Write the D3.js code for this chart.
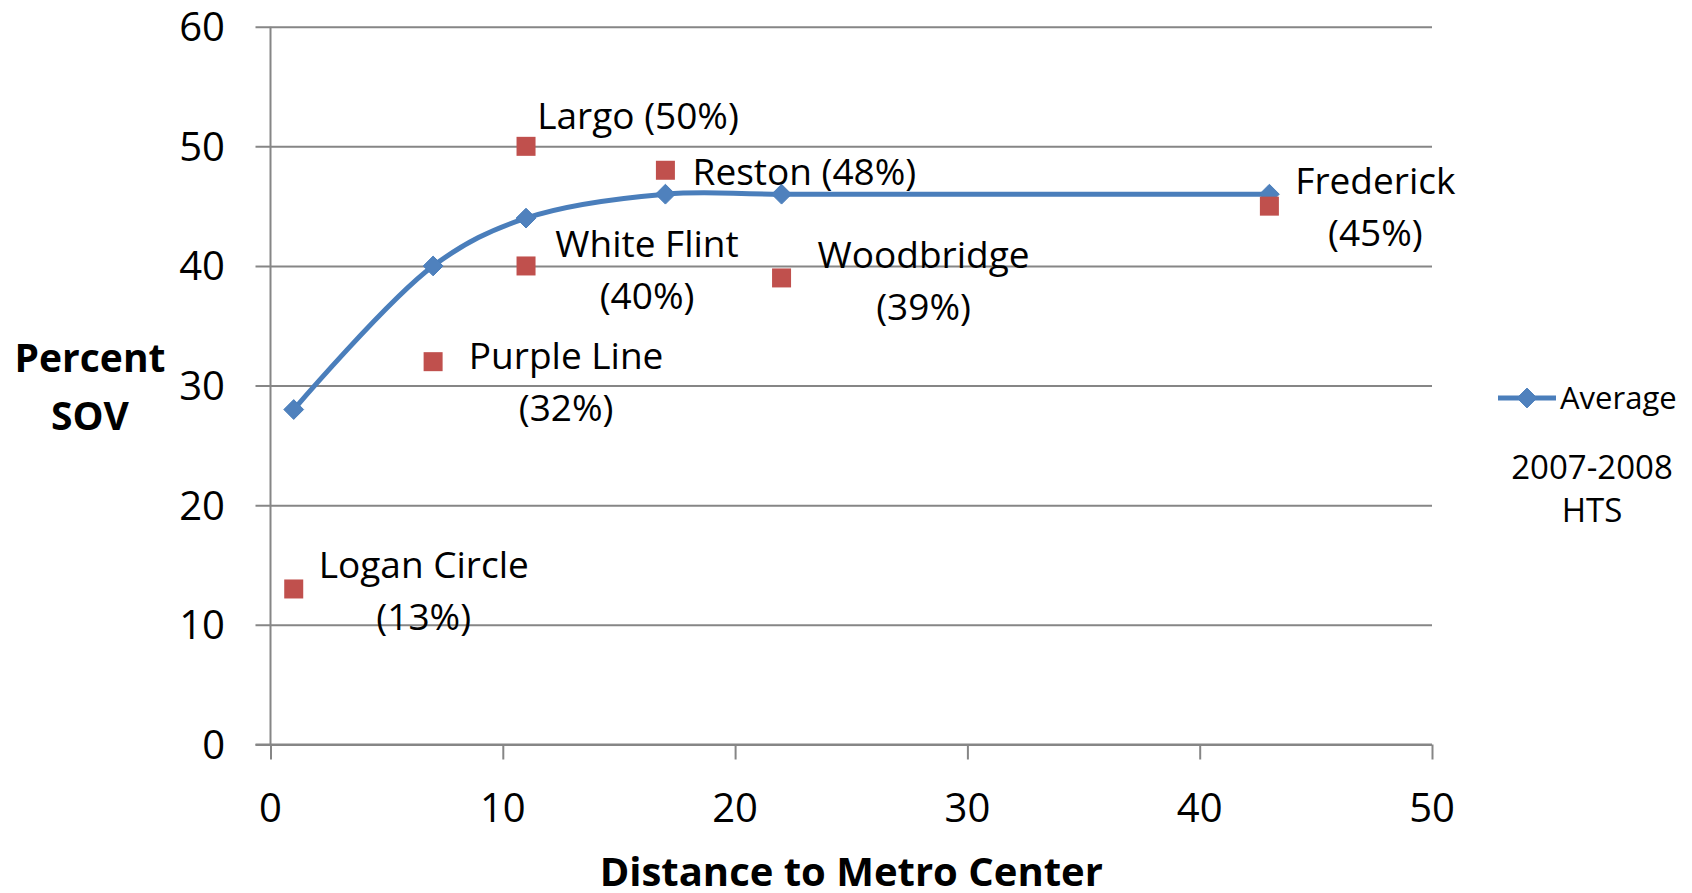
<!DOCTYPE html>
<html>
<head>
<meta charset="utf-8">
<script src="https://cdn.jsdelivr.net/npm/d3@7"></script>
<style>
  html, body { margin: 0; padding: 0; background: #fff; }
  svg { display: block; font-family: "Open Sans", sans-serif; }
</style>
</head>
<body>
<svg id="chart" width="1692" height="893"></svg>
<script>
// ---- Data ----
const avgX = [1, 7, 11, 17, 22, 43];
const avgY = [28, 40, 44, 46, 46, 46];
const avgName = "Average";

const siteNames = ["Logan Circle", "Purple Line", "White Flint", "Largo", "Reston", "Woodbridge", "Frederick"];
const siteX = [1, 7, 11, 11, 17, 22, 43];
const siteY = [13, 32, 40, 50, 48, 39, 45];

const xTicks = [0, 10, 20, 30, 40, 50];
const yTicks = [0, 10, 20, 30, 40, 50, 60];

const xTitle = "Distance to Metro Center";
const yTitleLines = ["Percent", "SOV"];
const noteLines = ["2007-2008", "HTS"];

// ---- Layout (pixels) ----
const labelDx = [130, 133, 121, 112, 139, 142, 106];
const labelDy = [-24, -6, -22, -31, 1, -23, -25];
const labelTwoLines = [true, true, true, false, false, true, true];

const W = 1692, H = 893;
const plot = { left: 270.5, right: 1432, top: 26.7, bottom: 744.5 };
const blue = "#4A7EBB", blueFill = "#4F81BD", red = "#C0504D", grid = "#868686";

const svg = d3.select("#chart");

const x = d3.scaleLinear().domain([0, 50]).range([plot.left, plot.right]);
const y = d3.scaleLinear().domain([0, 60]).range([plot.bottom, plot.top]);

// Gridlines (extend left of the axis as tick marks)
const yAxis = d3.axisLeft(y).tickValues(yTicks).tickSize(0).tickFormat("");
const gy = svg.append("g").attr("transform", `translate(${plot.right},0)`).call(yAxis);
gy.select(".domain").remove();
gy.selectAll(".tick line").attr("x1", 0).attr("x2", -(plot.right - plot.left) - 15)
  .attr("stroke", grid).attr("stroke-width", 2);

// y tick labels
svg.append("g").selectAll("text").data(yTicks).join("text")
  .attr("x", 225).attr("y", d => y(d) + 14.5)
  .attr("text-anchor", "end").attr("font-size", 40).attr("fill", "#000")
  .text(d => d);

// y axis line
svg.append("line").attr("x1", plot.left).attr("x2", plot.left)
  .attr("y1", plot.top).attr("y2", plot.bottom)
  .attr("stroke", grid).attr("stroke-width", 2);

// x axis
const xAxis = d3.axisBottom(x).tickValues(xTicks).tickSize(15).tickFormat("");
const gx = svg.append("g").attr("transform", `translate(0,${plot.bottom})`).call(xAxis);
gx.select(".domain").remove();
gx.selectAll(".tick line").attr("stroke", grid).attr("stroke-width", 2);
svg.append("line").attr("x1", plot.left - 15).attr("x2", plot.right)
  .attr("y1", plot.bottom).attr("y2", plot.bottom)
  .attr("stroke", grid).attr("stroke-width", 2);

svg.append("g").selectAll("text").data(xTicks).join("text")
  .attr("x", d => x(d)).attr("y", 822)
  .attr("text-anchor", "middle").attr("font-size", 40).attr("fill", "#000")
  .text(d => d);

// Axis titles
svg.append("text").attr("x", (plot.left + plot.right) / 2).attr("y", 886)
  .attr("text-anchor", "middle").attr("font-size", 40).attr("font-weight", "bold")
  .text(xTitle);
svg.append("g").selectAll("text").data(yTitleLines).join("text")
  .attr("x", 90).attr("y", (d, i) => 372 + i * 58)
  .attr("text-anchor", "middle").attr("font-size", 39).attr("font-weight", "bold")
  .text(d => d);

// Average line
const avgData = avgX.map((v, i) => ({ x: v, y: avgY[i] }));
const line = d3.line().x(d => x(d.x)).y(d => y(d.y)).curve(d3.curveCatmullRom.alpha(0.5));
svg.append("path").datum(avgData).attr("d", line)
  .attr("fill", "none").attr("stroke", blue).attr("stroke-width", 5)
  .attr("stroke-linejoin", "round");

const diamond = d3.symbol().type(d3.symbolDiamond2).size(250);
svg.append("g").selectAll("path").data(avgData).join("path")
  .attr("transform", d => `translate(${x(d.x)},${y(d.y)})`)
  .attr("d", diamond).attr("fill", blueFill).attr("stroke", blue).attr("stroke-width", 1);

// Site squares
const siteData = siteNames.map((n, i) => ({ name: n, x: siteX[i], y: siteY[i], i }));
const sq = 19;
svg.append("g").selectAll("rect").data(siteData).join("rect")
  .attr("x", d => x(d.x) - sq / 2).attr("y", d => y(d.y) - sq / 2)
  .attr("width", sq).attr("height", sq).attr("fill", red);

// Site labels
const fs = 37, lh = 52;
const lbl = svg.append("g").selectAll("text").data(siteData).join("text")
  .attr("text-anchor", "middle").attr("font-size", fs).attr("fill", "#000");
lbl.each(function (d) {
  const t = d3.select(this);
  const cx = x(d.x) + labelDx[d.i];
  const cy = y(d.y) + labelDy[d.i];
  const pct = `(${d.y}%)`;
  const lines = labelTwoLines[d.i] ? [d.name, pct] : [`${d.name} ${pct}`];
  lines.forEach((s, k) => {
    t.append("tspan").attr("x", cx).attr("y", cy + 0.36 * fs + k * lh).text(s);
  });
});

// Legend
const lgY = 398;
svg.append("line").attr("x1", 1498).attr("x2", 1556).attr("y1", lgY).attr("y2", lgY)
  .attr("stroke", blue).attr("stroke-width", 5);
svg.append("path").attr("transform", `translate(1527,${lgY})`).attr("d", diamond)
  .attr("fill", blueFill).attr("stroke", blue).attr("stroke-width", 1);
svg.append("text").attr("x", 1560).attr("y", 409).attr("font-size", 31).text(avgName);

svg.append("g").selectAll("text").data(noteLines).join("text")
  .attr("x", 1592).attr("y", (d, i) => 479 + i * 43)
  .attr("text-anchor", "middle").attr("font-size", 33).text(d => d);
</script>
</body>
</html>
